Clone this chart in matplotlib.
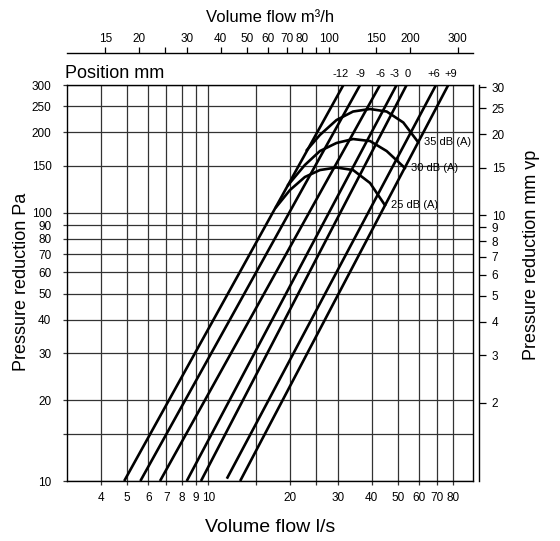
import matplotlib
matplotlib.use('Agg')
import matplotlib.pyplot as plt
from matplotlib.ticker import FixedLocator, FixedFormatter, NullLocator

# ---------------- data ----------------
positions = ['-12', '-9', '-6', '-3', '0', '+6', '+9']
flow_low = [4.89, 5.61, 6.63, 8.32, 9.39, 11.7, 13.1]      # l/s at lower end
dp_low = [10, 10, 10, 10, 10, 10.2, 10]                     # Pa
flow_high = [31.5, 36.3, 43.0, 49.5, 53.9, 69.2, 76.8]     # l/s at upper end
dp_high = [300, 300, 300, 300, 300, 300, 300]               # Pa

db35_flow = [23.1, 25.8, 29.7, 34.2, 39.5, 45.5, 52.4, 59.4]
db35_dp = [171.6, 195.3, 222.0, 238.9, 244.1, 238.9, 217.4, 183.8]
db30_flow = [19.7, 22.7, 25.8, 29.7, 34.2, 39.5, 45.5, 53.1]
db30_dp = [127.1, 150.9, 170.1, 182.3, 188.6, 185.4, 170.1, 147.1]
db25_flow = [17.8, 20.0, 22.7, 25.8, 29.7, 34.2, 39.5, 44.8]
db25_dp = [105.2, 121.7, 136.1, 144.5, 147.7, 144.5, 129.3, 107.0]
db_labels = ['35 dB (A)', '30 dB (A)', '25 dB (A)']

x_ticks = [4, 5, 6, 7, 8, 9, 10, 15, 20, 25, 30, 40, 50, 60, 70, 80]
x_labels = ['4', '5', '6', '7', '8', '9', '10', '', '20', '', '30', '40', '50', '60', '70', '80']
y_ticks = [10, 15, 20, 30, 40, 50, 60, 70, 80, 90, 100, 150, 200, 250, 300]
y_labels = ['10', '', '20', '30', '40', '50', '60', '70', '80', '90', '100', '150', '200', '250', '300']
top_ticks = [15, 20, 25, 30, 40, 50, 60, 70, 80, 90, 100, 150, 200, 300]
top_labels = ['15', '20', '', '30', '40', '50', '60', '70', '80', '', '100', '150', '200', '300']
right_ticks = [1, 2, 3, 4, 5, 6, 7, 8, 9, 10, 15, 20, 25, 30]
right_labels = [str(v) for v in right_ticks]

PA_PER_MM = 9.81
M3H_PER_LS = 3.6
XLIM = (3, 95)
YLIM = (10, 300)

# label nudges (points) for the position labels above the frame
label_dx = [-2, 0, 0, -1.5, 0.5, -1.5, 1.5]

# ---------------- style ----------------
small = ['Liberation Sans Narrow', 'Liberation Sans', 'DejaVu Sans']
big = ['Liberation Sans', 'DejaVu Sans']
plt.rcParams['font.family'] = small
plt.rcParams['font.size'] = 8.5

W, H = 560, 541
fig = plt.figure(figsize=(W / 100, H / 100), dpi=100)
L, R, T, B = 66.7, 473.3, 85, 481
ax = fig.add_axes([L / W, 1 - B / H, (R - L) / W, (B - T) / H])

grid_c = '#333333'
ax.set_xscale('log')
ax.set_yscale('log')
ax.set_xlim(*XLIM)
ax.set_ylim(*YLIM)
ax.xaxis.set_major_locator(FixedLocator(x_ticks))
ax.xaxis.set_major_formatter(FixedFormatter(x_labels))
ax.xaxis.set_minor_locator(NullLocator())
ax.yaxis.set_major_locator(FixedLocator(y_ticks))
ax.yaxis.set_major_formatter(FixedFormatter(y_labels))
ax.yaxis.set_minor_locator(NullLocator())
ax.grid(True, which='major', color=grid_c, lw=0.9)
ax.tick_params(axis='x', direction='out', length=3, width=0.9, color=grid_c, pad=5, labelsize=8.5)
ax.tick_params(axis='y', direction='out', length=3, width=0.9, color=grid_c, pad=8, labelsize=8.5)
for s in ax.spines.values():
    s.set_color('black')
    s.set_linewidth(1.0)

# position lines
for i in range(len(positions)):
    ax.plot([flow_low[i], flow_high[i]], [dp_low[i], dp_high[i]], color='black', lw=1.9,
            solid_capstyle='butt')
    ax.annotate(positions[i], xy=(flow_high[i], dp_high[i]), xytext=(label_dx[i], 8),
                textcoords='offset points', ha='center', va='center', fontsize=8,
                annotation_clip=False)

# dB curves
for fl, dp, lab in [(db35_flow, db35_dp, db_labels[0]),
                    (db30_flow, db30_dp, db_labels[1]),
                    (db25_flow, db25_dp, db_labels[2])]:
    ax.plot(fl, dp, color='black', lw=1.9, solid_joinstyle='round')
    ax.annotate(lab, xy=(fl[-1], dp[-1]), xytext=(4.5, 0), textcoords='offset points',
                ha='left', va='center', fontsize=8)

# right axis (mm vp)
axr = ax.twinx()
axr.set_yscale('log')
axr.set_ylim(YLIM[0] / PA_PER_MM, YLIM[1] / PA_PER_MM)
axr.yaxis.set_major_locator(FixedLocator(right_ticks))
axr.yaxis.set_major_formatter(FixedFormatter(right_labels))
axr.yaxis.set_minor_locator(NullLocator())
for k in ['left', 'top', 'bottom']:
    axr.spines[k].set_visible(False)
axr.spines['right'].set_position(('outward', 4.3))
axr.spines['right'].set_linewidth(1.0)
axr.tick_params(axis='y', direction='out', length=5, width=0.9, pad=4, labelsize=8.5)

# top axis (m3/h)
axt = ax.twiny()
axt.set_xscale('log')
axt.set_xlim(XLIM[0] * M3H_PER_LS, XLIM[1] * M3H_PER_LS)
axt.xaxis.set_major_locator(FixedLocator(top_ticks))
axt.xaxis.set_major_formatter(FixedFormatter(top_labels))
axt.xaxis.set_minor_locator(NullLocator())
for k in ['left', 'right', 'bottom']:
    axt.spines[k].set_visible(False)
axt.spines['top'].set_position(('outward', 23))
axt.spines['top'].set_linewidth(1.0)
axt.tick_params(axis='x', direction='out', length=4, width=0.9, pad=1.5, labelsize=8.5)

# titles
fig.text(270 / W, 1 - 18 / H, 'Volume flow m³/h', ha='center', va='center', fontsize=12, family=big)
fig.text(270 / W, 1 - 527 / H, 'Volume flow l/s', ha='center', va='center', fontsize=14, family=big)
fig.text(21.7 / W, 1 - 282 / H, 'Pressure reduction Pa', ha='center', va='center', rotation=90,
         fontsize=13, family=big)
fig.text(531.7 / W, 1 - 255 / H, 'Pressure reduction mm vp', ha='center', va='center', rotation=90,
         fontsize=13, family=big)
fig.text(65 / W, 1 - 74 / H, 'Position mm', ha='left', va='center', fontsize=13, family=big)

fig.savefig('out.png', dpi=100)
